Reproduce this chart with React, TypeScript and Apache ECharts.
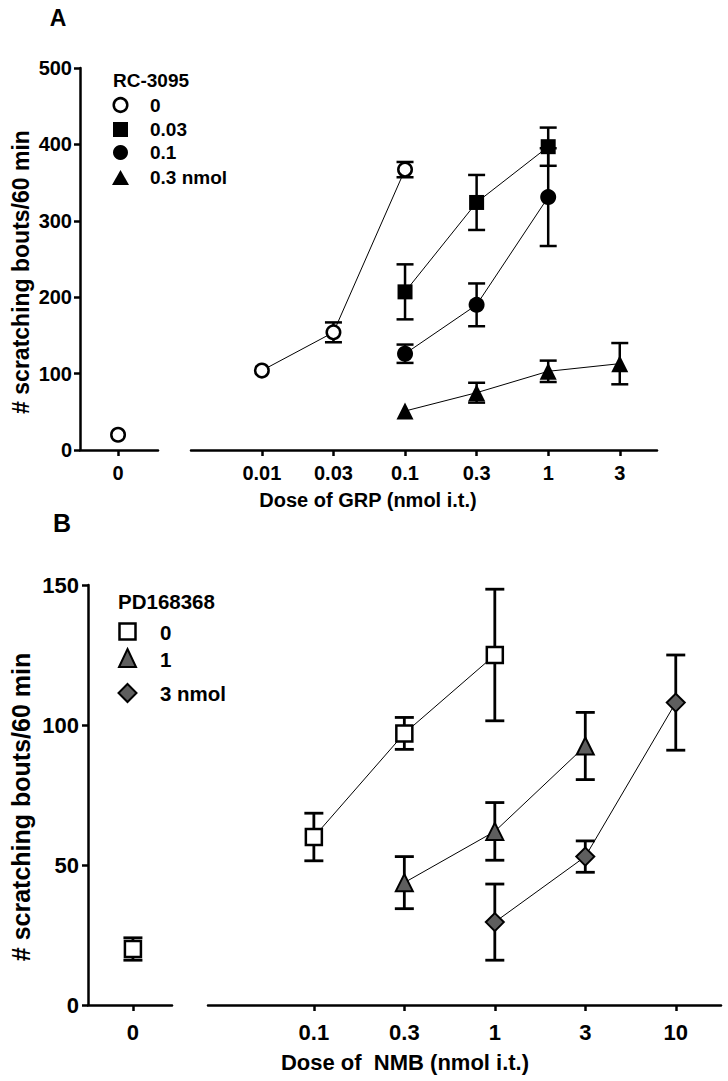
import React, { useEffect, useRef } from "react";
import * as echarts from "echarts";

// ---------- Panel A (GRP, RC-3095) ----------
const dosesA = ["0.01", "0.03", "0.1", "0.3", "1", "3"];
const yTicksA = [0, 100, 200, 300, 400, 500];

const rc0ZeroMean = 20;
const rc0ZeroSem = 0;
const rc0Doses = ["0.01", "0.03", "0.1"];
const rc0Mean = [104, 154, 367];
const rc0Sem = [0, 13, 10];

const rc003Doses = ["0.1", "0.3", "1"];
const rc003Mean = [207, 324, 397];
const rc003Sem = [36, 36, 25];

const rc01Doses = ["0.1", "0.3", "1"];
const rc01Mean = [126, 190, 331];
const rc01Sem = [12, 28, 64];

const rc03Doses = ["0.1", "0.3", "1", "3"];
const rc03Mean = [51, 75, 103, 113];
const rc03Sem = [0, 13, 14, 27];

// ---------- Panel B (NMB, PD168368) ----------
const dosesB = ["0.1", "0.3", "1", "3", "10"];
const yTicksB = [0, 50, 100, 150];

const pd0ZeroMean = 20;
const pd0ZeroSem = 4;
const pd0Doses = ["0.1", "0.3", "1"];
const pd0Mean = [60, 97, 125];
const pd0Sem = [8.5, 5.7, 23.5];

const pd1Doses = ["0.3", "1", "3"];
const pd1Mean = [43.7, 62, 92.5];
const pd1Sem = [9.3, 10.3, 12];

const pd3Doses = ["1", "3", "10"];
const pd3Mean = [29.6, 53, 108];
const pd3Sem = [13.6, 5.6, 17];

const FONT = '"Liberation Sans", Arial, sans-serif';
const GRAY = "#5e5e5e";

function lineSeries(xi: number, doses: string[], all: string[], means: number[], symbol: string, size: number, fill: string, bw: number) {
  return {
    type: "line",
    xAxisIndex: xi,
    yAxisIndex: xi,
    data: doses.map((d, i) => [all.indexOf(d), means[i]]),
    symbol,
    symbolSize: size,
    showSymbol: true,
    itemStyle: { color: fill, borderColor: "#000", borderWidth: bw, opacity: 1 },
    lineStyle: { color: "#000", width: 1 },
    z: 3,
    silent: true,
  };
}

function zeroSeries(xi: number, mean: number, symbol: string, size: number, fill: string, bw: number) {
  return {
    type: "scatter",
    xAxisIndex: xi,
    yAxisIndex: xi,
    data: [[0, mean]],
    symbol,
    symbolSize: size,
    itemStyle: { color: fill, borderColor: "#000", borderWidth: bw, opacity: 1 },
    z: 3,
    silent: true,
  };
}

function errSeries(xi: number, xs: number[], means: number[], sems: number[], cap: number, lw: number) {
  return {
    type: "custom",
    xAxisIndex: xi,
    yAxisIndex: xi,
    data: xs.map((x, i) => [x, means[i] - sems[i], means[i] + sems[i]]),
    encode: { x: 0, y: [1, 2] },
    z: 1,
    silent: true,
    renderItem: (params: any, api: any) => {
      const x = api.value(0);
      if (api.value(1) === api.value(2)) return null;
      const lo = api.coord([x, api.value(1)]);
      const hi = api.coord([x, api.value(2)]);
      const w = cap / 2;
      const style = { stroke: "#000", lineWidth: lw };
      return {
        type: "group",
        children: [
          { type: "line", shape: { x1: lo[0], y1: lo[1], x2: hi[0], y2: hi[1] }, style },
          { type: "line", shape: { x1: hi[0] - w, y1: hi[1], x2: hi[0] + w, y2: hi[1] }, style },
          { type: "line", shape: { x1: lo[0] - w, y1: lo[1], x2: lo[0] + w, y2: lo[1] }, style },
        ],
      };
    },
  };
}

const axisLineStyle = { onZero: false, lineStyle: { color: "#000", width: 2.5 } };
const axisTickStyle = { length: 6, lineStyle: { color: "#000", width: 2.5 } };

function txt(text: string, x: number, y: number, size: number, align = "left", rotation = 0) {
  return {
    type: "text",
    x,
    y,
    rotation,
    style: {
      text,
      font: `bold ${size}px ${FONT}`,
      fill: "#000",
      textAlign: align,
      textVerticalAlign: "middle",
    },
  };
}

export default function App() {
  const ref = useRef<HTMLDivElement>(null);
  useEffect(() => {
    document.body.style.margin = "0";
    if (!ref.current) return;
    const chart = echarts.init(ref.current, undefined, { renderer: "svg" });

    const gridA = { top: 68, height: 382 };
    const gridB = { top: 585, height: 420 };

    const option: any = {
      animation: false,
      backgroundColor: "#fff",
      grid: [
        { left: 80, width: 78, ...gridA },
        { left: 191, width: 466, ...gridA },
        { left: 88, width: 84, ...gridB },
        { left: 208, width: 513, ...gridB },
      ],
      xAxis: [
        {
          gridIndex: 0, type: "value", min: -1, max: 1.05,
          axisLine: axisLineStyle, splitLine: { show: false },
          axisTick: { ...axisTickStyle, customValues: [0] },
          axisLabel: { customValues: [0], formatter: () => "0", fontSize: 20, fontWeight: "bold", fontFamily: FONT, color: "#000", margin: 13 },
        },
        {
          gridIndex: 1, type: "value", min: -0.99, max: 5.52,
          axisLine: axisLineStyle, splitLine: { show: false },
          axisTick: { ...axisTickStyle, customValues: dosesA.map((_, i) => i) },
          axisLabel: { customValues: dosesA.map((_, i) => i), formatter: (v: number) => dosesA[Math.round(v)], fontSize: 20, fontWeight: "bold", fontFamily: FONT, color: "#000", margin: 13 },
        },
        {
          gridIndex: 2, type: "value", min: -1, max: 0.87,
          axisLine: axisLineStyle, splitLine: { show: false },
          axisTick: { ...axisTickStyle, customValues: [0] },
          axisLabel: { customValues: [0], formatter: () => "0", fontSize: 22, fontWeight: "bold", fontFamily: FONT, color: "#000", margin: 16 },
        },
        {
          gridIndex: 3, type: "value", min: -1.17, max: 4.5,
          axisLine: axisLineStyle, splitLine: { show: false },
          axisTick: { ...axisTickStyle, customValues: dosesB.map((_, i) => i) },
          axisLabel: { customValues: dosesB.map((_, i) => i), formatter: (v: number) => dosesB[Math.round(v)], fontSize: 22, fontWeight: "bold", fontFamily: FONT, color: "#000", margin: 16 },
        },
      ],
      yAxis: [
        {
          gridIndex: 0, type: "value", min: yTicksA[0], max: yTicksA[yTicksA.length - 1], interval: 100,
          axisLine: { show: true, ...axisLineStyle }, axisTick: { show: true, ...axisTickStyle }, splitLine: { show: false },
          axisLabel: { fontSize: 20, fontWeight: "bold", fontFamily: FONT, color: "#000", margin: 8 },
        },
        { gridIndex: 1, type: "value", min: 0, max: 500, show: false },
        {
          gridIndex: 2, type: "value", min: yTicksB[0], max: yTicksB[yTicksB.length - 1], interval: 50,
          axisLine: { show: true, ...axisLineStyle }, axisTick: { show: true, ...axisTickStyle }, splitLine: { show: false },
          axisLabel: { fontSize: 22, fontWeight: "bold", fontFamily: FONT, color: "#000", margin: 9 },
        },
        { gridIndex: 3, type: "value", min: 0, max: 150, show: false },
      ],
      series: [
        // Panel A error bars
        errSeries(0, [0], [rc0ZeroMean], [rc0ZeroSem], 17, 2.5),
        errSeries(1, rc0Doses.map((d) => dosesA.indexOf(d)), rc0Mean, rc0Sem, 17, 2.5),
        errSeries(1, rc003Doses.map((d) => dosesA.indexOf(d)), rc003Mean, rc003Sem, 17, 2.5),
        errSeries(1, rc01Doses.map((d) => dosesA.indexOf(d)), rc01Mean, rc01Sem, 17, 2.5),
        errSeries(1, rc03Doses.map((d) => dosesA.indexOf(d)), rc03Mean, rc03Sem, 17, 2.5),
        // Panel A markers
        zeroSeries(0, rc0ZeroMean, "circle", 13.5, "#fff", 2.5),
        lineSeries(1, rc0Doses, dosesA, rc0Mean, "circle", 13.5, "#fff", 2.5),
        lineSeries(1, rc003Doses, dosesA, rc003Mean, "rect", 15, "#000", 0),
        lineSeries(1, rc01Doses, dosesA, rc01Mean, "circle", 16, "#000", 0),
        lineSeries(1, rc03Doses, dosesA, rc03Mean, "triangle", 17, "#000", 0),
        // Panel B error bars
        errSeries(2, [0], [pd0ZeroMean], [pd0ZeroSem], 19, 2.8),
        errSeries(3, pd0Doses.map((d) => dosesB.indexOf(d)), pd0Mean, pd0Sem, 19, 2.8),
        errSeries(3, pd1Doses.map((d) => dosesB.indexOf(d)), pd1Mean, pd1Sem, 19, 2.8),
        errSeries(3, pd3Doses.map((d) => dosesB.indexOf(d)), pd3Mean, pd3Sem, 19, 2.8),
        // Panel B markers
        zeroSeries(2, pd0ZeroMean, "rect", 16, "#fff", 2.5),
        lineSeries(3, pd0Doses, dosesB, pd0Mean, "rect", 16, "#fff", 2.5),
        lineSeries(3, pd1Doses, dosesB, pd1Mean, "triangle", 17, GRAY, 2),
        lineSeries(3, pd3Doses, dosesB, pd3Mean, "diamond", 18, GRAY, 2),
      ],
      graphic: [
        txt("A", 58, 18, 23, "center"),
        txt("B", 62, 523, 25, "center"),
        txt("# scratching bouts/60 min", 21, 272, 23, "center", Math.PI / 2),
        txt("# scratching bouts/60 min", 21, 807, 25, "center", Math.PI / 2),
        txt("Dose of GRP (nmol i.t.)", 368, 500, 20, "center"),
        txt("Dose of  NMB (nmol i.t.)", 405, 1062, 22, "center"),
        // Legend A
        txt("RC-3095", 113, 80, 19),
        { type: "circle", shape: { cx: 120.5, cy: 105, r: 6.8 }, style: { fill: "#fff", stroke: "#000", lineWidth: 2.5 } },
        { type: "rect", shape: { x: 113, y: 122, width: 15, height: 15 }, style: { fill: "#000" } },
        { type: "circle", shape: { cx: 120.5, cy: 152.5, r: 7.5 }, style: { fill: "#000" } },
        { type: "polygon", shape: { points: [[120.5, 170], [129, 185], [112, 185]] }, style: { fill: "#000" } },
        txt("0", 150, 105, 19),
        txt("0.03", 150, 129, 19),
        txt("0.1", 150, 152, 19),
        txt("0.3 nmol", 150, 177, 19),
        // Legend B
        txt("PD168368", 118, 601, 20.5),
        { type: "rect", shape: { x: 119.5, y: 623.5, width: 16, height: 16 }, style: { fill: "#fff", stroke: "#000", lineWidth: 2.5 } },
        { type: "polygon", shape: { points: [[127.5, 649], [136, 667], [119, 667]] }, style: { fill: GRAY, stroke: "#000", lineWidth: 2 } },
        { type: "polygon", shape: { points: [[127.5, 684], [136.5, 693], [127.5, 702], [118.5, 693]] }, style: { fill: GRAY, stroke: "#000", lineWidth: 2 } },
        txt("0", 160, 632, 20.5),
        txt("1", 160, 659, 20.5),
        txt("3 nmol", 160, 693, 20.5),
      ],
    };
    chart.setOption(option);
    return () => chart.dispose();
  }, []);
  return <div ref={ref} style={{ width: 728, height: 1081 }} />;
}
